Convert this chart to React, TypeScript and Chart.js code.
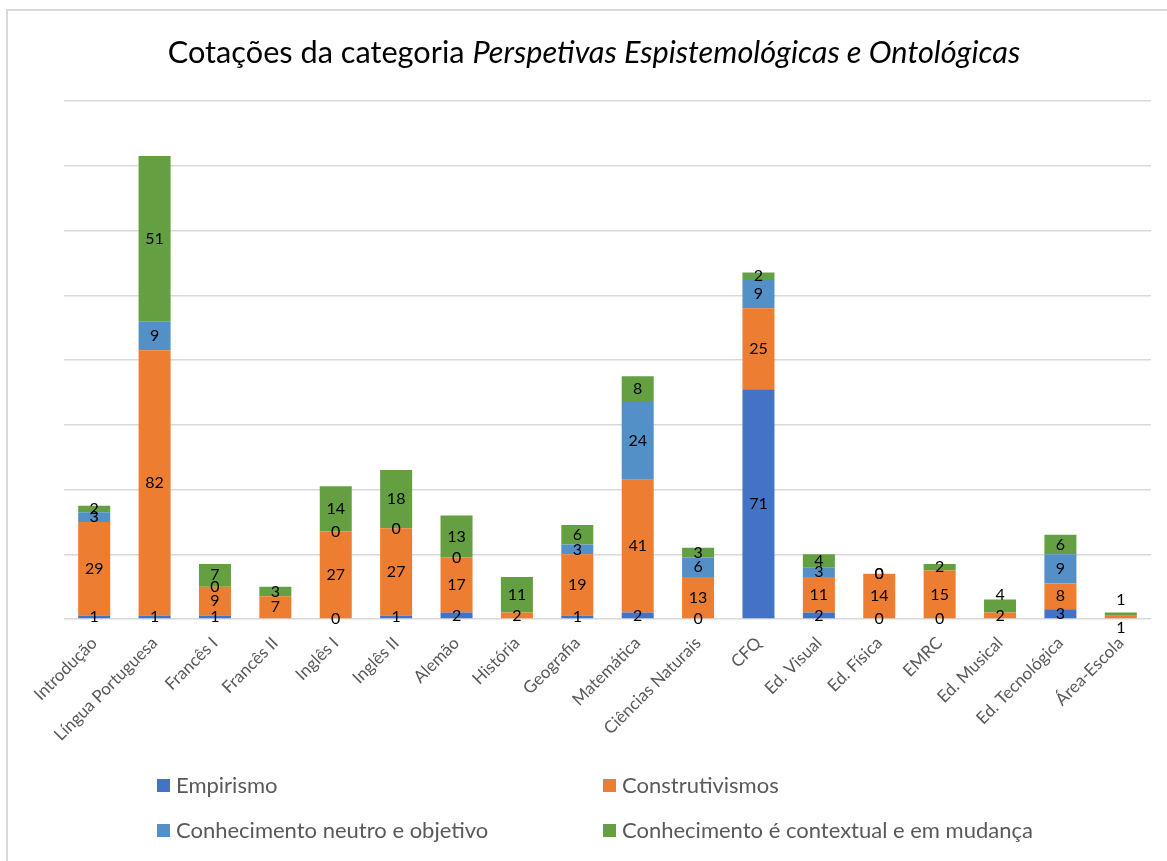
import React, { useEffect, useRef } from "react";
import { Chart, registerables } from "chart.js";

Chart.register(...registerables);

const categories = [
  "Introdução",
  "Língua Portuguesa",
  "Francês I",
  "Francês II",
  "Inglês I",
  "Inglês II",
  "Alemão",
  "História",
  "Geografia",
  "Matemática",
  "Ciências Naturais",
  "CFQ",
  "Ed. Visual",
  "Ed. Física",
  "EMRC",
  "Ed. Musical",
  "Ed. Tecnológica",
  "Área-Escola",
];

const empirismo = [1, 1, 1, null, 0, 1, 2, null, 1, 2, 0, 71, 2, 0, 0, null, 3, null];
const construtivismos = [29, 82, 9, 7, 27, 27, 17, 2, 19, 41, 13, 25, 11, 14, 15, 2, 8, 1];
const neutro = [3, 9, 0, null, 0, 0, 0, null, 3, 24, 6, 9, 3, 0, null, null, 9, null];
const contextual = [2, 51, 7, 3, 14, 18, 13, 11, 6, 8, 3, 2, 4, 0, 2, 4, 6, 1];

const seriesNames = [
  "Empirismo",
  "Construtivismos",
  "Conhecimento neutro e objetivo",
  "Conhecimento é contextual e em mudança",
];
const seriesColors = ["#4472C4", "#ED7D31", "#5390C8", "#64A041"];

const yMin = 0;
const yMax = 160;
const yStep = 20;

const titleRegular = "Cotações da categoria ";
const titleItalic = "Perspetivas Espistemológicas e Ontológicas";

const FONT = "Lato, 'Open Sans', sans-serif";

// label nudges (pixels) for labels Excel had moved manually
const labelNudges: Record<string, number> = {
  "Ed. Musical|3": -11,
  "Área-Escola|1": 11,
  "Área-Escola|3": -14,
};

const decorPlugin = {
  id: "decor",
  beforeDraw(chart: any) {
    const ctx = chart.ctx;
    ctx.save();
    ctx.fillStyle = "#ffffff";
    ctx.fillRect(0, 0, chart.width, chart.height);
    ctx.strokeStyle = "#d9d9d9";
    ctx.lineWidth = 2;
    ctx.beginPath();
    ctx.moveTo(7, chart.height + 2);
    ctx.lineTo(7, 10);
    ctx.lineTo(chart.width + 2, 10);
    ctx.stroke();
    ctx.restore();
  },
  afterDatasetsDraw(chart: any) {
    const ctx = chart.ctx;
    ctx.save();
    ctx.font = `16px ${FONT}`;
    ctx.fillStyle = "#000000";
    ctx.textAlign = "center";
    ctx.textBaseline = "middle";
    chart.data.datasets.forEach((ds: any, di: number) => {
      const meta = chart.getDatasetMeta(di);
      meta.data.forEach((el: any, i: number) => {
        const v = ds.data[i];
        if (v === null || v === undefined) return;
        const cy = (el.y + el.base) / 2;
        const nudge = labelNudges[`${categories[i]}|${di}`] || 0;
        ctx.fillText(String(v), el.x, cy + nudge);
      });
    });
    ctx.restore();
  },
  afterDraw(chart: any) {
    const ctx = chart.ctx;
    ctx.save();
    // Title
    const titleSize = 30.7;
    ctx.fillStyle = "#000000";
    ctx.textBaseline = "middle";
    ctx.textAlign = "left";
    ctx.font = `${titleSize}px ${FONT}`;
    const w1 = ctx.measureText(titleRegular).width;
    ctx.font = `italic ${titleSize}px ${FONT}`;
    const w2 = ctx.measureText(titleItalic).width;
    const start = 594 - (w1 + w2) / 2;
    ctx.font = `${titleSize}px ${FONT}`;
    ctx.fillText(titleRegular, start, 53);
    ctx.font = `italic ${titleSize}px ${FONT}`;
    ctx.fillText(titleItalic, start + w1, 53);

    // Legend
    const cols = [157, 603];
    const rows = [785, 830];
    ctx.font = `22px ${FONT}`;
    ctx.textBaseline = "middle";
    seriesNames.forEach((name, i) => {
      const x = cols[i % 2];
      const y = rows[Math.floor(i / 2)];
      ctx.fillStyle = seriesColors[i];
      ctx.fillRect(x, y - 6, 13, 13);
      ctx.fillStyle = "#595959";
      ctx.fillText(name, x + 19, y + 1);
    });
    ctx.restore();
  },
};

export default function App() {
  const canvasRef = useRef<HTMLCanvasElement | null>(null);

  useEffect(() => {
    document.body.style.margin = "0";
    const canvas = canvasRef.current;
    if (!canvas) return;
    const chart = new Chart(canvas, {
      type: "bar",
      data: {
        labels: categories,
        datasets: [empirismo, construtivismos, neutro, contextual].map((d, i) => ({
          label: seriesNames[i],
          data: d,
          backgroundColor: seriesColors[i],
          borderWidth: 0,
          barPercentage: 0.53,
          categoryPercentage: 1,
        })),
      },
      options: {
        responsive: false,
        animation: false,
        devicePixelRatio: 1,
        layout: {
          padding: { left: 64, right: 16, top: 101, bottom: 92 },
        },
        plugins: {
          legend: { display: false },
          title: { display: false },
          tooltip: { enabled: false },
        },
        scales: {
          x: {
            stacked: true,
            grid: { display: false },
            border: { display: false },
            ticks: {
              autoSkip: false,
              minRotation: 45,
              maxRotation: 45,
              color: "#595959",
              font: { family: FONT, size: 17 },
              padding: 6,
            },
            afterFit(scale: any) {
              scale.height = 150;
            },
          },
          y: {
            stacked: true,
            min: yMin,
            max: yMax,
            ticks: { display: false, stepSize: yStep },
            border: { display: false },
            grid: { color: "#d9d9d9", lineWidth: 1.5, drawTicks: false },
            afterFit(scale: any) {
              scale.width = 0;
            },
          },
        },
      },
      plugins: [decorPlugin],
    });
    return () => chart.destroy();
  }, []);

  return (
    <canvas
      ref={canvasRef}
      width={1167}
      height={861}
      style={{ display: "block", width: 1167, height: 861 }}
    />
  );
}
